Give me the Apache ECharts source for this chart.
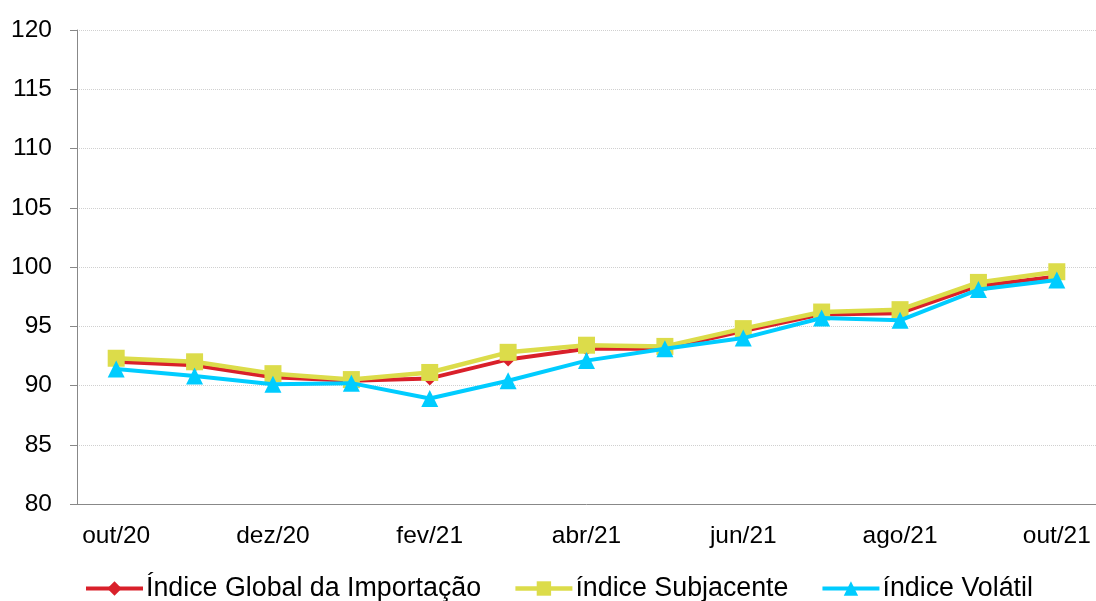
<!DOCTYPE html>
<html><head><meta charset="utf-8">
<script src="https://cdn.jsdelivr.net/npm/echarts@6/dist/echarts.min.js"></script>
<style>html,body{margin:0;padding:0;background:#fff}#c{width:1096px;height:601px}</style>
</head><body><div id="c"></div>
<script>
const categories = ['out/20','nov/20','dez/20','jan/21','fev/21','mar/21','abr/21','mai/21','jun/21','jul/21','ago/21','set/21','out/21'];
const globalIdx = [92.0, 91.7, 90.7, 90.4, 90.6, 92.2, 93.1, 93.1, 94.6, 96.0, 96.1, 98.4, 99.2];
const subjacente = [92.3, 92.0, 91.0, 90.5, 91.1, 92.8, 93.4, 93.3, 94.8, 96.2, 96.4, 98.7, 99.6];
const volatil = [91.4, 90.8, 90.1, 90.2, 88.9, 90.4, 92.1, 93.1, 94.0, 95.7, 95.5, 98.1, 98.9];
const yTicks = {min: 80, max: 120, interval: 5};

const chart = echarts.init(document.getElementById('c'));
const font = 'Liberation Sans, Arial, sans-serif';
chart.setOption({
  animation: false,
  grid: {left: 77, top: 30, right: 0, bottom: 97},
  legend: {
    top: 575, left: 84, padding: 0, itemWidth: 57, itemHeight: 18, itemGap: 32,
    textStyle: {fontFamily: font, fontSize: 26.8, color: '#000', padding: [0, 0, 0, -2]},
    data: [
      {name: 'Índice Global da Importação', lineStyle: {width: 4}},
      {name: 'índice Subjacente', lineStyle: {width: 4.5}},
      {name: 'índice Volátil', lineStyle: {width: 4}}
    ]
  },
  xAxis: {
    type: 'category', data: categories, boundaryGap: true,
    axisLine: {lineStyle: {color: '#888', width: 1}},
    axisTick: {interval: 1, length: 7, lineStyle: {color: '#888'}},
    axisLabel: {interval: 1, fontFamily: font, fontSize: 24.5, color: '#000', margin: 20}
  },
  yAxis: {
    type: 'value', min: yTicks.min, max: yTicks.max, interval: yTicks.interval,
    axisLine: {show: true, lineStyle: {color: '#888'}},
    axisTick: {show: true, length: 7, lineStyle: {color: '#888'}},
    axisLabel: {fontFamily: font, fontSize: 24.5, color: '#000', margin: 25},
    splitLine: {lineStyle: {color: '#d0d0d0', type: 'dotted', width: 1}}
  },
  series: [
    {name: 'Índice Global da Importação', type: 'line', data: globalIdx, z: 2,
     symbol: 'diamond', symbolSize: 14,
     lineStyle: {color: '#D9202A', width: 4}, itemStyle: {color: '#D9202A'}},
    {name: 'índice Subjacente', type: 'line', data: subjacente, z: 3,
     symbol: 'rect', symbolSize: 17,
     lineStyle: {color: '#DCDC4A', width: 4.5}, itemStyle: {color: '#DCDC4A'}},
    {name: 'índice Volátil', type: 'line', data: volatil, z: 4,
     symbol: 'triangle', symbolSize: 17,
     lineStyle: {color: '#00CCFF', width: 4}, itemStyle: {color: '#00CCFF'}}
  ]
});
</script></body></html>
